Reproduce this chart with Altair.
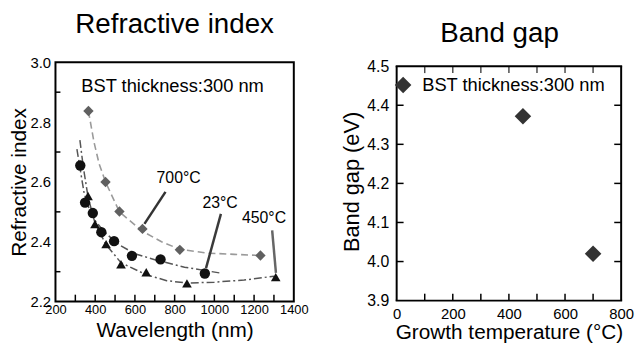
import altair as alt
import pandas as pd

# ---------------- data: refractive index panel ----------------
wl_700 = [366, 452, 522, 638, 826, 1232]
n_700 = [2.837, 2.600, 2.501, 2.443, 2.373, 2.354]
wl_23 = [325, 349, 388, 431, 495, 585, 729, 952]
n_23 = [2.655, 2.531, 2.496, 2.432, 2.402, 2.353, 2.341, 2.294]
wl_450 = [364, 399, 455, 530, 657, 862, 1309]
n_450 = [2.553, 2.459, 2.392, 2.325, 2.298, 2.261, 2.282]

fit700_wl = [366, 394, 420, 452, 522, 638, 734, 826, 967, 1100, 1232]
fit700_n = [2.837, 2.733, 2.66, 2.60, 2.50, 2.435, 2.40, 2.375, 2.362, 2.358, 2.354]
fit23_wl = [308, 325, 345, 370, 400, 450, 520, 600, 700, 850, 1025]
fit23_n = [2.71, 2.64, 2.56, 2.51, 2.47, 2.43, 2.39, 2.36, 2.34, 2.315, 2.296]
fit450_wl = [323, 340, 364, 400, 455, 530, 657, 760, 862, 1000, 1150, 1300]
fit450_n = [2.74, 2.65, 2.55, 2.46, 2.39, 2.33, 2.29, 2.27, 2.262, 2.265, 2.272, 2.285]

label_text = ["700°C", "23°C", "450°C"]
label_wl = [820, 1029, 1250]
label_n = [2.597, 2.512, 2.462]
leader_wl1 = [754, 1033, 1291]
leader_n1 = [2.567, 2.493, 2.438]
leader_wl2 = [648, 958, 1310]
leader_n2 = [2.460, 2.312, 2.296]
leader_color = ["#333333", "#3a3a3a", "#666666"]

x_ticks_left = [300, 400, 500, 600, 700, 800, 900, 1000, 1100, 1200, 1300]
y_ticks_left = [2.3, 2.5, 2.7, 2.9]
x_labels_left = [200, 400, 600, 800, 1000, 1200, 1400]
y_labels_left = [2.2, 2.4, 2.6, 2.8, 3.0]

# ---------------- data: band gap panel ----------------
temp = [23, 450, 700]
gap = [4.452, 4.372, 4.020]
x_ticks_right = [100, 200, 300, 400, 500, 600, 700]
y_ticks_right = [4.0, 4.1, 4.2, 4.3, 4.4]
x_labels_right = [0, 200, 400, 600, 800]
y_labels_right = [3.9, 4.0, 4.1, 4.2, 4.3, 4.4, 4.5]

panel_titles = ["Refractive index", "Band gap"]

FONT = "Liberation Sans"
WL, HL = 241, 242
WR, HR = 227, 241
GAP_TOP = 4.51  # scale top, a little above the 4.5 frame line

xs_l = alt.Scale(domain=[200, 1400], nice=False, zero=False)
ys_l = alt.Scale(domain=[2.2, 3.0], nice=False, zero=False)

x_ax_l = alt.Axis(values=x_labels_left, format="d", grid=False, domain=False, ticks=False,
                  tickSize=0, labelFontSize=13, labelPadding=2, labelColor="black",
                  title="Wavelength (nm)", titleFontSize=21, titleFontWeight="normal",
                  titlePadding=3, titleColor="black", labelFlush=False, labelOverlap=False)
y_ax_l = alt.Axis(values=y_labels_left, format=".1f", grid=False, domain=False, ticks=False,
                  tickSize=0, labelFontSize=15, labelPadding=5, labelColor="black",
                  title="Refractive index", titleFontSize=21, titleFontWeight="normal",
                  titlePadding=0, titleColor="black", labelFlush=False, labelOverlap=False)


def XL(f):
    return alt.X(f, scale=xs_l, axis=x_ax_l)


def YL(f):
    return alt.Y(f, scale=ys_l, axis=y_ax_l)


def line_layer(wl, n, color, dash, width):
    df = pd.DataFrame({"wl": wl, "n": n})
    return alt.Chart(df).mark_line(color=color, strokeDash=dash, strokeWidth=width).encode(
        x=XL("wl:Q"), y=YL("n:Q"), order="wl:Q",
    )


def point_layer(wl, n, shape, color, size):
    df = pd.DataFrame({"wl": wl, "n": n})
    return alt.Chart(df).mark_point(shape=shape, filled=True, color=color, size=size, opacity=1).encode(
        x=XL("wl:Q"), y=YL("n:Q")
    )


fit700 = line_layer(fit700_wl, fit700_n, "#9a9a9a", [7, 4], 1.6)
fit23 = line_layer(fit23_wl, fit23_n, "#555555", [8, 3, 2, 3], 1.5)
fit450 = line_layer(fit450_wl, fit450_n, "#555555", [8, 3, 2, 3], 1.5)

leaders_df = pd.DataFrame({"x1": leader_wl1, "y1": leader_n1, "x2": leader_wl2, "y2": leader_n2,
                           "c": leader_color})
leaders = alt.Chart(leaders_df).mark_rule(strokeWidth=2.5).encode(
    x=XL("x1:Q"), y=YL("y1:Q"), x2="x2:Q", y2="y2:Q",
    color=alt.Color("c:N", scale=None),
)

pts700 = point_layer(wl_700, n_700, "diamond", "#606060", 110)
pts23 = point_layer(wl_23, n_23, "circle", "#111111", 110)
pts450 = point_layer(wl_450, n_450, "triangle-up", "#111111", 95)

labels_df = pd.DataFrame({"t": label_text, "x": label_wl, "y": label_n})
labels = alt.Chart(labels_df).mark_text(fontSize=16, font=FONT, align="center", baseline="alphabetic",
                                        color="black").encode(
    x=XL("x:Q"), y=YL("y:Q"), text="t:N"
)

bst_l_df = pd.DataFrame({"t": ["BST thickness:300 nm"], "x": [330], "y": [2.90]})
bst_l = alt.Chart(bst_l_df).mark_text(fontSize=18.5, font=FONT, align="left", baseline="alphabetic",
                                      color="black").encode(
    x=XL("x:Q"), y=YL("y:Q"), text="t:N"
)

xt_l = alt.Chart(pd.DataFrame({"v": x_ticks_left})).mark_rule(color="black", strokeWidth=1.5).encode(
    x=XL("v:Q"), y=alt.value(HL), y2=alt.value(HL - 7)
)
yt_l = alt.Chart(pd.DataFrame({"v": y_ticks_left})).mark_rule(color="black", strokeWidth=1.5).encode(
    y=YL("v:Q"), x=alt.value(0), x2=alt.value(5)
)

title_l = alt.Chart(pd.DataFrame({"t": [panel_titles[0]]})).mark_text(
    fontSize=28, font=FONT, align="center", baseline="top", color="black"
).encode(text="t:N", x=alt.value(WL / 2), y=alt.value(-52))

left = alt.layer(fit700, fit23, fit450, leaders, pts700, pts23, pts450, labels, bst_l, xt_l, yt_l,
                 title_l).properties(width=WL, height=HL)

# ---------------- right panel ----------------
xs_r = alt.Scale(domain=[0, 800], nice=False, zero=False)
ys_r = alt.Scale(domain=[3.9, GAP_TOP], nice=False, zero=False)

x_ax_r = alt.Axis(values=x_labels_right, format="d", grid=False, domain=False, ticks=False,
                  tickSize=0, labelFontSize=15, labelPadding=6, labelColor="black",
                  title="Growth temperature (°C)", titleFontSize=21, titleFontWeight="normal",
                  titlePadding=0, titleColor="black", labelFlush=False, labelOverlap=False)
y_ax_r = alt.Axis(values=y_labels_right, format=".1f", grid=False, domain=False, ticks=False,
                  tickSize=0, labelFontSize=16, labelPadding=8, labelColor="black",
                  title="Band gap (eV)", titleFontSize=22, titleFontWeight="normal",
                  titlePadding=3, titleColor="black", labelFlush=False, labelOverlap=False)


def XR(f):
    return alt.X(f, scale=xs_r, axis=x_ax_r)


def YR(f):
    return alt.Y(f, scale=ys_r, axis=y_ax_r)


frame_top = y_labels_right[-1]

gap_df = pd.DataFrame({"T": temp, "Eg": gap})
gap_pts = alt.Chart(gap_df).mark_point(shape="diamond", filled=True, color="#333333", size=280,
                                       opacity=1).encode(x=XR("T:Q"), y=YR("Eg:Q"))

bst_r_df = pd.DataFrame({"t": ["BST thickness:300 nm"], "x": [91], "y": [4.437]})
bst_r = alt.Chart(bst_r_df).mark_text(fontSize=18.5, font=FONT, align="left", baseline="alphabetic",
                                      color="black").encode(x=XR("x:Q"), y=YR("y:Q"), text="t:N")

# frame of the right panel (top edge sits at 4.5)
top_df = pd.DataFrame({"v": [frame_top]})
frame_t = alt.Chart(top_df).mark_rule(color="black", strokeWidth=2).encode(
    y=YR("v:Q"), x=alt.value(-1), x2=alt.value(WR + 1)
)
frame_l = alt.Chart(top_df).mark_rule(color="black", strokeWidth=2).encode(
    y=YR("v:Q"), y2=alt.value(HR), x=alt.value(0)
)
frame_r = alt.Chart(top_df).mark_rule(color="black", strokeWidth=2).encode(
    y=YR("v:Q"), y2=alt.value(HR), x=alt.value(WR)
)
frame_b = alt.Chart(top_df).mark_rule(color="black", strokeWidth=2).encode(
    y=alt.value(HR), x=alt.value(-1), x2=alt.value(WR + 1)
)

xt_rb = alt.Chart(pd.DataFrame({"v": x_ticks_right})).mark_rule(color="black", strokeWidth=1.5).encode(
    x=XR("v:Q"), y=alt.value(HR), y2=alt.value(HR - 7)
)
xt_rt = alt.Chart(pd.DataFrame({"v": x_ticks_right, "top": [frame_top] * len(x_ticks_right)})).mark_tick(
    color="black", thickness=1.5, size=7, orient="vertical", yOffset=3.5
).encode(x=XR("v:Q"), y=YR("top:Q"))
yt_rl = alt.Chart(pd.DataFrame({"v": y_ticks_right})).mark_rule(color="black", strokeWidth=1.5).encode(
    y=YR("v:Q"), x=alt.value(0), x2=alt.value(7)
)
yt_rr = alt.Chart(pd.DataFrame({"v": y_ticks_right})).mark_rule(color="black", strokeWidth=1.5).encode(
    y=YR("v:Q"), x=alt.value(WR - 7), x2=alt.value(WR)
)

title_r = alt.Chart(pd.DataFrame({"t": [panel_titles[1]]})).mark_text(
    fontSize=28, font=FONT, align="center", baseline="top", color="black"
).encode(text="t:N", x=alt.value(104), y=alt.value(-43))

right = alt.layer(frame_t, frame_l, frame_r, frame_b, gap_pts, bst_r, xt_rb, xt_rt, yt_rl, yt_rr,
                  title_r).properties(width=WR, height=HR,
                                      view=alt.ViewBackground(stroke="transparent"))

chart = alt.hconcat(left, right, spacing=30).properties(padding=0).configure(
    font=FONT
).configure_view(stroke="black", strokeWidth=2).configure_axis(labelFont=FONT, titleFont=FONT)

chart.save("out.html", embed_options={"renderer": "svg", "actions": False})
